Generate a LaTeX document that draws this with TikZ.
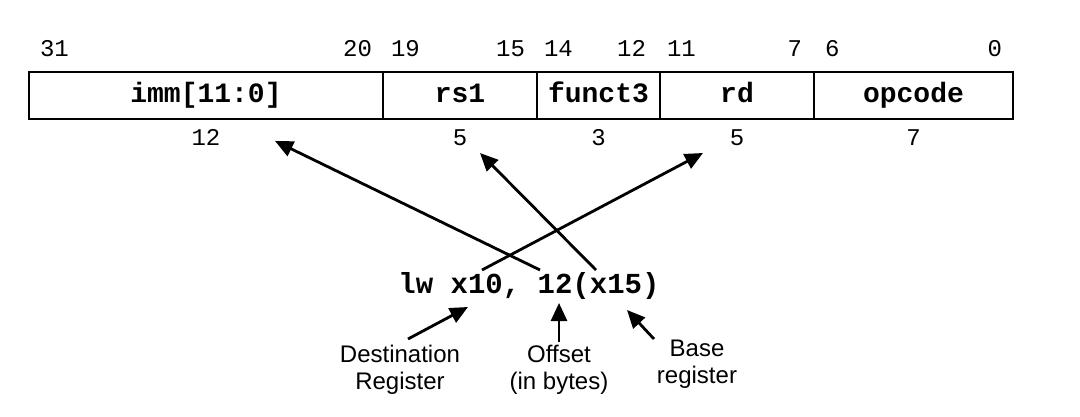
\documentclass[tikz,border=0pt]{standalone}
\usepackage{fontspec}
\setmainfont{Liberation Sans}
\setmonofont{Liberation Mono}
\usetikzlibrary{arrows.meta,positioning}

\begin{document}
\begin{tikzpicture}[x=1pt,y=-1pt,
  every node/.style={inner sep=0pt,outer sep=0pt},
  field/.style={draw,line width=1.3pt,minimum height=47pt,
                text height=19pt,text depth=5pt,
                font=\fontsize{28}{30}\selectfont\ttfamily\bfseries},
  bitnum/.style={font=\fontsize{24}{26}\selectfont\ttfamily},
  widthnum/.style={text height=16pt,text depth=0pt,
                   font=\fontsize{24}{26}\selectfont\ttfamily},
  note/.style={align=center,font=\fontsize{24}{27}\selectfont},
  arr/.style={-{Triangle[length=18pt,width=16pt]},line width=2.8pt}
]
  \useasboundingbox (0,0) rectangle (1080,417);

  % instruction format
  \node[field,minimum width=354pt] (imm) at (206,95.5) {imm[11:0]};
  \node[field,minimum width=154pt,right=0pt of imm] (rs1) {rs1};
  \node[field,minimum width=123pt,right=0pt of rs1] (funct3) {funct3};
  \node[field,minimum width=154pt,right=0pt of funct3] (rd) {rd};
  \node[field,minimum width=199pt,right=0pt of rd] (opcode) {opcode};

  % bit positions
  \node[bitnum,anchor=base west] (b31) at (40,57) {31};
  \node[bitnum,anchor=base east] (b20) at (372,57) {20};
  \node[bitnum,anchor=base west] (b19) at (391,57) {19};
  \node[bitnum,anchor=base east] (b15) at (525,57) {15};
  \node[bitnum,anchor=base west] (b14) at (544,57) {14};
  \node[bitnum,anchor=base east] (b12) at (646,57) {12};
  \node[bitnum,anchor=base west] (b11) at (667,57) {11};
  \node[bitnum,anchor=base east] (b7) at (802,57) {7};
  \node[bitnum,anchor=base west] (b6) at (825,57) {6};
  \node[bitnum,anchor=base east] (b0) at (1002,57) {0};

  % field widths
  \node[widthnum,below=11pt of imm] (wimm) {12};
  \node[widthnum,below=11pt of rs1] (wrs1) {5};
  \node[widthnum,below=11pt of funct3] (wfunct3) {3};
  \node[widthnum,below=11pt of rd] (wrd) {5};
  \node[widthnum,below=11pt of opcode] (wopcode) {7};

  % assembly instruction
  \node[anchor=base,font=\fontsize{29}{31}\selectfont\ttfamily\bfseries]
    (instr) at (529,293) {lw x10, 12(x15)};

  \node[note,anchor=north] (dest) at (400,345) {Destination\\Register};
  \node[note,anchor=north] (offset) at (559,345) {Offset\\(in bytes)};
  \node[note,anchor=north] (base) at (697,340) {Base\\register};

  \coordinate (immTail) at (540,270);
  \coordinate (rsTail) at (596,270);
  \coordinate (rdTail) at (482,270);
  \coordinate (immTip) at (275,141);
  \coordinate (rsTip) at (480,153);
  \coordinate (rdTip) at (703,153);
  \coordinate (destTip) at (468,307);
  \coordinate (offTip) at (559,303);
  \coordinate (baseTip) at (627,310);

  \draw[arr] (immTail) -- (immTip);
  \draw[arr] (rsTail) -- (rsTip);
  \draw[arr] (rdTail) -- (rdTip);

  \draw[arr] ([xshift=8pt,yshift=6pt]dest.north) -- (destTip);
  \draw[arr] ([yshift=3pt]offset.north) -- (offTip);
  \draw[arr] ([xshift=-43pt,yshift=1pt]base.north) -- (baseTip);
\end{tikzpicture}
\end{document}
